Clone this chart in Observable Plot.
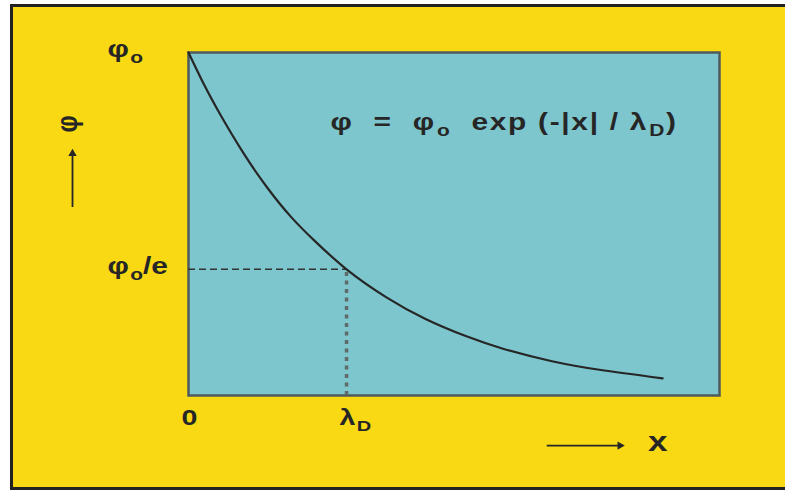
<!DOCTYPE html>
<html>
<head>
<meta charset="utf-8">
<script src="https://cdn.jsdelivr.net/npm/d3@7"></script>
<script src="https://cdn.jsdelivr.net/npm/@observablehq/plot@0.6"></script>
<style>
  html, body { margin: 0; padding: 0; background: #ffffff; }
  #wrap { position: relative; width: 785px; height: 490px; overflow: hidden; }
  #panel { position: absolute; left: 10px; top: 4px; width: 800px; height: 486px; box-sizing: border-box;
           background: #F8D914; border: 3px solid #222; }
  #chart { position: absolute; left: 0; top: 0; }
  #chart text { white-space: pre; }
  #chart text.formula { letter-spacing: 1.3px; }
</style>
</head>
<body>
<div id="wrap">
  <div id="panel"></div>
  <div id="chart"></div>
</div>
<script>
// Curve: x in units of λD, φ in units of φo
const xs   = [0, 0.1, 0.2, 0.35, 0.5, 0.65, 0.8, 1.0, 1.25, 1.5, 1.75, 2.0, 2.3, 2.6, 3.0];
const phis = [1.0, 0.905, 0.82, 0.705, 0.605, 0.52, 0.45, 0.368, 0.287, 0.223, 0.174, 0.135, 0.10, 0.075, 0.05];

// Tick values and labels ("_" marks a one-character subscript)
const yTickValues = [1, 0.368];
const yTickLabels = ["φ_o", "φ_o/e"];
const xTickValues = [0, 1];
const xTickLabels = ["0", "λ_D"];

// Reference point (λD, φo/e)
const markX = [1];
const markY = [0.368];

const formula = ["φ  =  φ_o  exp (-|x| / λ_D)"];
const yAxisName = ["φ"];
const xAxisName = ["x"];

const curve = xs.map((x, i) => ({x, phi: phis[i]}));
const yTicks = yTickValues.map((v, i) => ({v, label: yTickLabels[i]}));
const xTicks = xTickValues.map((v, i) => ({v, label: xTickLabels[i]}));

const ink = "#262626";
const fontFam = "Liberation Sans, Arial, sans-serif";

const chart = Plot.plot({
  width: 785,
  height: 490,
  marginLeft: 188,
  marginRight: 66,
  marginTop: 52,
  marginBottom: 95,
  x: {domain: [0, 3.36], axis: null},
  y: {domain: [0, 1], axis: null},
  style: {background: "transparent", overflow: "visible", fontFamily: fontFam},
  marks: [
    Plot.frame({fill: "#7DC6CD", stroke: "#4f5a5b", strokeWidth: 2.5}),
    // dashed horizontal from axis to the curve point
    Plot.ruleY(markY, {x1: 0, x2: markX[0], stroke: "#333", strokeWidth: 1.5, strokeDasharray: "7,4"}),
    // dotted vertical from the curve point down to the axis
    Plot.ruleX(markX, {y1: 0, y2: markY[0], stroke: "#5f6a6b", strokeWidth: 3.5, strokeDasharray: "4,4.5"}),
    // the curve
    Plot.line(curve, {x: "x", y: "phi", curve: "natural", stroke: ink, strokeWidth: 2.2}),
    // y tick labels
    Plot.text(yTicks, {x: 0, y: "v", text: "label", textAnchor: "start", dx: -81, dy: -3,
      fontSize: 23, fontWeight: "bold", fill: ink}),
    // x tick labels
    Plot.text(xTicks, {x: "v", frameAnchor: "bottom", text: "label", textAnchor: "start", dx: -7, dy: 29,
      fontSize: 22, fontWeight: "bold", fill: ink}),
    // formula
    Plot.text(formula, {frameAnchor: "top-left", text: d => d, textAnchor: "start", dx: 142, dy: 61,
      fontSize: 23, fontWeight: "bold", fill: ink, className: "formula-mark"}),
    // y axis name (rotated) and arrow
    Plot.text(yAxisName, {frameAnchor: "top-left", text: d => d, dx: -133, dy: 80, rotate: -90,
      fontSize: 24, fontWeight: "bold", fill: ink}),
    Plot.ruleX([-0.734], {y1: 0.548, y2: 0.70, stroke: ink, strokeWidth: 1.8}),
    Plot.dot([-0.734], {x: d => d, y: 0.705, symbol: "triangle2", r: 4, fill: ink, stroke: "none"}),
    // x axis name and arrow
    Plot.text(xAxisName, {frameAnchor: "bottom-right", text: d => d, dx: -52, dy: 55,
      fontSize: 27, fontWeight: "bold", fill: ink}),
    Plot.ruleY([-0.146], {x1: 2.27, x2: 2.72, stroke: ink, strokeWidth: 1.8}),
    Plot.dot([2.73], {x: d => d, y: -0.146, symbol: "triangle2", r: 4, rotate: 90, fill: ink, stroke: "none"})
  ]
});

// Turn "_c" into a subscript tspan
chart.querySelectorAll("text").forEach(el => {
  const s = el.textContent;
  if (s === formula[0]) el.classList.add("formula");
  if (!s.includes("_") || el.children.length) return;
  el.textContent = "";
  const parts = s.split(/_(.)/);
  const ns = "http://www.w3.org/2000/svg";
  let down = false;
  parts.forEach((p, i) => {
    if (!p) return;
    const ts = document.createElementNS(ns, "tspan");
    if (i % 2 === 1) {
      ts.setAttribute("font-size", "70%");
      ts.setAttribute("dy", "6");
      ts.setAttribute("dx", "1");
      down = true;
    } else if (down) {
      ts.setAttribute("dy", "-6");
      down = false;
    }
    ts.textContent = p;
    el.appendChild(ts);
  });
});

// The lettering in the picture is wide: stretch glyphs horizontally about their anchor
chart.querySelectorAll("text").forEach(el => {
  const t = el.getAttribute("transform") || "";
  el.setAttribute("transform", t + (t.includes("rotate") ? " scale(1,1.25)" : " scale(1.3,1)"));
});

document.getElementById("chart").appendChild(chart);
</script>
</body>
</html>
